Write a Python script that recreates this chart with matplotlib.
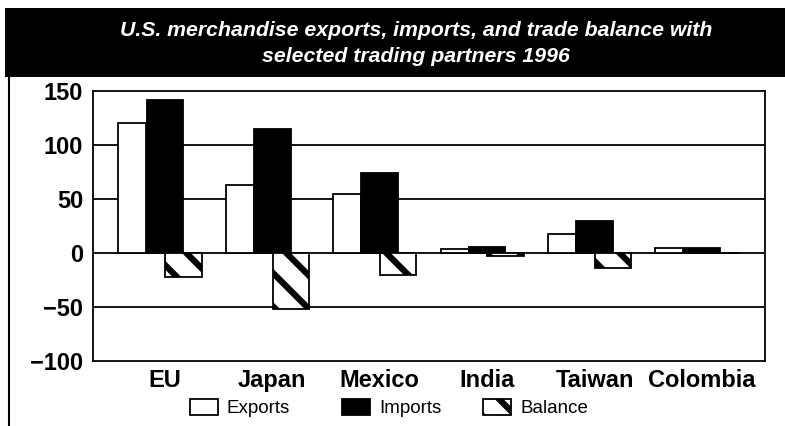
import matplotlib
matplotlib.use("Agg")
import matplotlib.pyplot as plt
from matplotlib.patches import Patch, Rectangle
from matplotlib.lines import Line2D
import numpy as np

categories = ["EU", "Japan", "Mexico", "India", "Taiwan", "Colombia"]
exports = [120, 63, 55, 3.5, 17.5, 4.5]
imports = [142, 115, 74, 6, 30, 4.7]
balance = [-22, -52, -20, -2.5, -13.5, -0.2]
yticks = [-100, -50, 0, 50, 100, 150]
series_names = ["Exports", "Imports", "Balance"]
title = "U.S. merchandise exports, imports, and trade balance with\nselected trading partners 1996"

plt.rcParams['font.family'] = ['Liberation Sans', 'DejaVu Sans']
plt.rcParams['hatch.linewidth'] = 4.5
plt.rcParams['hatch.color'] = 'black'

W, H = 785, 426
fig = plt.figure(figsize=(W / 100, H / 100), dpi=100)
fig.patch.set_facecolor('white')

# title banner
fig.patches.append(Rectangle((5 / W, 1 - 77 / H), 780 / W, 69 / H, transform=fig.transFigure,
                             facecolor='black', edgecolor='none', zorder=0))
fig.text(416 / W, 1 - 30 / H, title.split("\n")[0], ha='center', va='center', color='white',
         fontsize=15.3, fontweight='bold', fontstyle='italic')
fig.text(416 / W, 1 - 57 / H, title.split("\n")[1], ha='center', va='center', color='white',
         fontsize=15.3, fontweight='bold', fontstyle='italic')
# left border line
fig.lines.append(Line2D([9 / W, 9 / W], [0, 1 - 77 / H], transform=fig.transFigure,
                        color='black', lw=1.5))

ax = fig.add_axes([93 / W, 1 - 361 / H, (765 - 93) / W, (361 - 91) / H])
x = np.arange(len(categories))
ax.bar(x - 0.303, exports, width=0.26, facecolor='white', edgecolor='black', lw=1.3, zorder=3)
ax.bar(x, imports, width=0.34, facecolor='black', edgecolor='black', lw=1.3, zorder=3)
ax.bar(x + 0.172, balance, width=0.34, facecolor='white', edgecolor='black', lw=1.3,
       hatch='\\', zorder=3)

for g in [-50, 0, 50, 100]:
    ax.axhline(g, color='black', lw=1.3, zorder=1)

ax.set_xlim(-0.67, 5.587)
ax.set_ylim(-100, 150)
ax.set_yticks(yticks)
ax.set_yticklabels([str(t).replace('-', '\u2212') for t in yticks], fontsize=17, fontweight='bold')
ax.set_xticks(x)
ax.set_xticklabels(categories, fontsize=17, fontweight='bold')
ax.tick_params(axis='y', length=0, pad=7)
ax.tick_params(axis='x', length=0, pad=6)
for s in ax.spines.values():
    s.set_linewidth(1.3)
    s.set_color('black')

handles = [Patch(facecolor='white', edgecolor='black', lw=1.3),
           Patch(facecolor='black', edgecolor='black', lw=1.3),
           Patch(facecolor='white', edgecolor='black', lw=1.3, hatch='\\')]
box_starts = [190, 342, 483]
fs = 13.5
em = fs * 100 / 72
for h, name, bx in zip(handles, series_names, box_starts):
    leg = fig.legend([h], [name], loc='center left',
                     bbox_to_anchor=((bx - 0.4 * em) / W, 1 - 408 / H), frameon=False,
                     fontsize=fs, handlelength=28 / em, handleheight=18 / em,
                     handletextpad=9 / em, borderaxespad=0)

fig.savefig("out.png", dpi=100)
